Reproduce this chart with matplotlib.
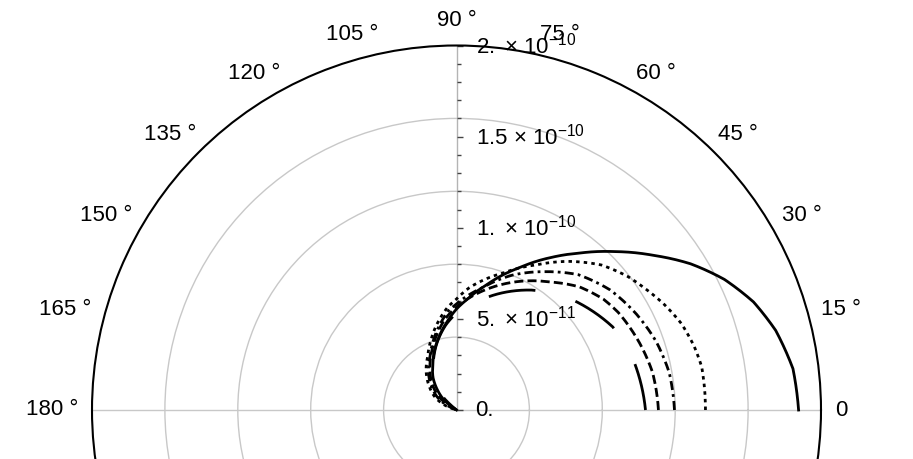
import numpy as np
import matplotlib
matplotlib.use("Agg")
import matplotlib.pyplot as plt
from matplotlib.markers import TICKRIGHT
from matplotlib.transforms import ScaledTranslation

plt.rcParams['font.family'] = ['Liberation Sans', 'DejaVu Sans']
plt.rcParams['mathtext.fontset'] = 'custom'
plt.rcParams['mathtext.rm'] = 'Liberation Sans'
plt.rcParams['mathtext.it'] = 'Liberation Sans:italic'
plt.rcParams['mathtext.bf'] = 'Liberation Sans:bold'
plt.rcParams['lines.scale_dashes'] = False

UNIT = 1e-10

# ---- data (theta in degrees, r in units of 1e-10) ----
theta_solid = [0, 7, 14, 20, 26, 32, 38, 45, 52, 58, 66, 76, 84, 90, 96, 103, 110, 117, 126, 134, 142, 145, 146]
r_solid = [1.877, 1.860, 1.805, 1.734, 1.635, 1.514, 1.377, 1.229, 1.092, 0.988, 0.856, 0.713, 0.615,
           0.554, 0.488, 0.417, 0.351, 0.285, 0.219, 0.148, 0.082, 0.027, 0.0]

theta_dotted = [0, 10, 15, 21, 27, 33, 38, 45, 53, 61, 71, 84, 90, 95, 101, 110, 118, 127, 139, 150, 158, 163]
r_dotted = [1.366, 1.366, 1.350, 1.322, 1.278, 1.229, 1.191, 1.125, 1.021, 0.911, 0.796, 0.675, 0.609,
            0.565, 0.502, 0.409, 0.335, 0.277, 0.198, 0.132, 0.066, 0.0]

theta_dashdot = [0, 10, 19, 28, 38, 48, 57, 67.5, 78, 90, 95, 100, 108, 116, 125, 137, 147, 154, 157]
r_dashdot = [1.196, 1.185, 1.158, 1.119, 1.070, 0.999, 0.905, 0.801, 0.686, 0.582, 0.543, 0.488, 0.406,
             0.329, 0.269, 0.187, 0.121, 0.060, 0.0]

theta_dashed = [0, 11, 20, 31, 37, 45, 53, 64, 75, 90, 97, 104, 112, 120, 129, 138, 146, 150, 151]
r_dashed = [1.108, 1.095, 1.070, 1.037, 1.010, 0.955, 0.878, 0.785, 0.691, 0.565, 0.505, 0.433, 0.357,
            0.291, 0.225, 0.159, 0.093, 0.038, 0.0]

theta_longdash = [0, 15, 28, 43.5, 58, 76, 90, 97, 105, 113, 120, 131, 137, 140, 141]
r_longdash = [1.037, 1.010, 0.971, 0.878, 0.776, 0.631, 0.532, 0.472, 0.395, 0.318, 0.255, 0.170,
              0.088, 0.027, 0.0]

r_max = 2.0
r_grid = [0.4, 0.8, 1.2, 1.6]
r_major_ticks = [0.0, 0.5, 1.0, 1.5, 2.0]
r_major_labels = [r'0.', r'$5.\ {\times}\ 10^{-11}$', r'$1.\ {\times}\ 10^{-10}$',
                  r'$1.5\ {\times}\ 10^{-10}$', r'$2.\ {\times}\ 10^{-10}$']
r_minor_ticks = [0.1, 0.2, 0.3, 0.4, 0.6, 0.7, 0.8, 0.9, 1.1, 1.2, 1.3, 1.4, 1.6, 1.7, 1.8, 1.9]
theta_label_angles = [0, 15, 30, 45, 60, 75, 90, 105, 120, 135, 150, 165, 180]
theta_label_texts = ['0', '15 °', '30 °', '45 °', '60 °', '75 °', '90 °', '105 °', '120 °', '135 °',
                     '150 °', '165 °', '180 °']

FS = 16

W, H = 913, 459
fig = plt.figure(figsize=(W / 100, H / 100), dpi=100)
cx, cy, Rpx = 456.5, 459 - 410, 364.5
ax = fig.add_axes([(cx - Rpx) / W, (cy - Rpx) / H, 2 * Rpx / W, 2 * Rpx / H], projection='polar')
ax.set_ylim(0, r_max * UNIT)

# radial grid circles
ax.set_yticks(np.array(r_grid) * UNIT)
ax.set_yticklabels([])
ax.yaxis.grid(True, color='#c8c8c8', lw=1.0)
ax.tick_params(axis='y', length=0)

# theta ticks
ax.xaxis.grid(False)
ax.set_xticks(np.deg2rad(np.arange(0, 360, 15)))
ax.set_xticklabels([])
minor = [a for a in range(0, 360, 5) if a % 15 != 0]
ax.set_xticks(np.deg2rad(minor), minor=True)
ax.tick_params(axis='x', which='major', direction='inout', length=7, width=1.1, color='black')
ax.tick_params(axis='x', which='minor', direction='inout', length=4, width=1.0, color='black')
ax.spines['polar'].set_linewidth(1.5)
ax.spines['polar'].set_color('black')

# horizontal grid line (0 and 180 degrees)
for a in (0, np.pi):
    ax.plot([a, a], [0, r_max * UNIT], color='#c8c8c8', lw=1.0, zorder=1)
# radial axis at 90 degrees
ax.plot([np.pi / 2, np.pi / 2], [0, r_max * UNIT], color='#b4b4b4', lw=1.0, zorder=1.5)
ax.plot([np.pi / 2] * len(r_major_ticks), np.array(r_major_ticks) * UNIT, ls='none',
        marker=TICKRIGHT, ms=4.0, mew=1.0, color='#444444', zorder=1.6, clip_on=False)
ax.plot([np.pi / 2] * len(r_minor_ticks), np.array(r_minor_ticks) * UNIT, ls='none',
        marker=TICKRIGHT, ms=2.6, mew=1.0, color='#444444', zorder=1.6, clip_on=False)

# radial labels
off = ScaledTranslation(19 / 100, 0, fig.dpi_scale_trans)
for rv, lab in zip(r_major_ticks, r_major_labels):
    ax.text(np.pi / 2, rv * UNIT, lab, fontsize=FS, ha='left', va='center',
            transform=ax.transData + off, clip_on=False, zorder=5)

# curves
lw = 2.0
curves = [
    (theta_solid, r_solid, None),
    (theta_dotted, r_dotted, (2.5, 3.0)),
    (theta_dashdot, r_dashdot, (6.5, 3.0, 2.0, 3.0)),
    (theta_dashed, r_dashed, (6.5, 3.0)),
    (theta_longdash, r_longdash, (34, 30)),
]
for th, rr, dash in curves:
    kw = {} if dash is None else {'dashes': dash}
    ln, = ax.plot(np.deg2rad(th), np.array(rr) * UNIT, color='black', lw=lw, zorder=3,
                  solid_joinstyle='round', **kw)
    ln.get_path()._interpolation_steps = 40

# theta labels placed outside the circle
fig.canvas.draw()
renderer = fig.canvas.get_renderer()
GAP = 14.0
for ang, lab in zip(theta_label_angles, theta_label_texts):
    t = ax.text(np.deg2rad(ang), r_max * UNIT, lab, fontsize=FS, ha='center', va='center',
                clip_on=False)
    bb = t.get_window_extent(renderer)
    c, s = np.cos(np.deg2rad(ang)), np.sin(np.deg2rad(ang))
    dx = GAP * c + bb.width / 2 * c
    dy = GAP * s + bb.height / 2 * s
    t.set_transform(ax.transData + ScaledTranslation(dx / 100, dy / 100, fig.dpi_scale_trans))

fig.savefig('out.png', dpi=100)
